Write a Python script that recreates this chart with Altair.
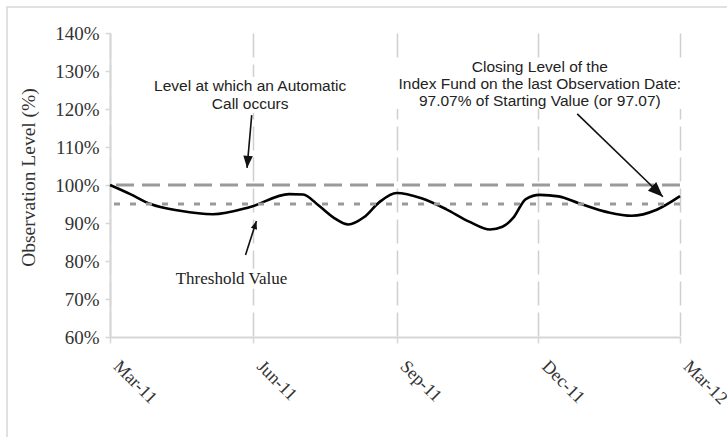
import math
import altair as alt
import pandas as pd

# Closing level of the index fund, % of starting value
obs_dates = ["2011-03-01", "2011-03-14", "2011-03-27", "2011-04-15", "2011-05-06",
             "2011-05-30", "2011-06-24", "2011-07-03", "2011-07-13", "2011-07-23",
             "2011-08-01", "2011-08-11", "2011-08-21", "2011-09-01", "2011-09-17",
             "2011-10-03", "2011-10-18", "2011-10-31", "2011-11-08", "2011-11-15",
             "2011-11-23", "2011-12-02", "2011-12-14", "2011-12-27", "2012-01-15",
             "2012-01-30", "2012-02-15", "2012-03-01"]
obs_levels = [100.0, 97.6, 95.0, 93.2, 92.3, 94.2, 97.6, 97.5, 94.6, 91.3,
              89.6, 91.5, 95.5, 97.9, 96.5, 93.6, 90.3, 88.3, 89.0, 91.4,
              96.3, 97.4, 97.0, 95.2, 92.8, 91.9, 93.5, 97.07]

# Reference levels
call_level = [100]
threshold_level = [95]

# Axis ticks
y_ticks = [60, 70, 80, 90, 100, 110, 120, 130, 140]
x_tick_dates = [(2011, 3), (2011, 6), (2011, 9), (2011, 12), (2012, 3)]

# Annotation texts (sans-serif callouts)
note_text = ["Level at which an Automatic", "Call occurs",
             "Closing Level of the", "Index Fund on the last Observation Date:",
             "97.07% of Starting Value (or 97.07)"]
note_dates = ["2011-05-30", "2011-05-30", "2011-12-02", "2011-12-02", "2011-12-02"]
note_levels = [126.1, 121.3, 131.05, 126.6, 122.2]

thresh_text = ["Threshold Value"]
thresh_dates = ["2011-05-18"]
thresh_levels = [75.3]

# White text boxes behind each callout: centre date, centre level, half size in px
box_dates = ["2011-05-30", "2011-12-02", "2011-05-18"]
box_levels = [123.7, 126.6, 75.3]
box_half_w = [101, 148, 60]
box_half_h = [18, 25, 10]

# Callout arrows: tail -> tip
arrow_from_dates = ["2011-05-31", "2011-05-27", "2011-12-26"]
arrow_from_levels = [118.4, 81.6, 118.7]
arrow_to_dates = ["2011-05-28", "2011-06-03", "2012-02-19"]
arrow_to_levels = [104.5, 90.5, 96.9]
arrow_head_sizes = [144, 64, 225]

W, H = 570, 304
X0, X1 = pd.Timestamp("2011-03-01"), pd.Timestamp("2012-03-01")
Y0, Y1 = 60, 140
PX_PER_DAY = W / (X1 - X0).days
PX_PER_PCT = H / (Y1 - Y0)


def to_px(d, v):
    t = (pd.Timestamp(d) - X0) / (X1 - X0)
    return t * W, (Y1 - v) / (Y1 - Y0) * H


def head_angle(d0, v0, d1, v1):
    x0, y0 = to_px(d0, v0)
    x1, y1 = to_px(d1, v1)
    return math.degrees(math.atan2(x1 - x0, -(y1 - y0))) % 360


series = pd.DataFrame({"date": obs_dates, "level": obs_levels})
notes = pd.DataFrame({"date": note_dates, "level": note_levels, "text": note_text})
thresh = pd.DataFrame({"date": thresh_dates, "level": thresh_levels, "text": thresh_text})
arrows = pd.DataFrame({
    "date": arrow_from_dates, "level": arrow_from_levels,
    "date2": arrow_to_dates, "level2": arrow_to_levels,
    "size": arrow_head_sizes,
    "angle": [head_angle(a, b, c, d) for a, b, c, d in
              zip(arrow_from_dates, arrow_from_levels, arrow_to_dates, arrow_to_levels)],
})
boxes = pd.DataFrame({
    "date": [(pd.Timestamp(d) - pd.Timedelta(days=w / PX_PER_DAY)).isoformat()
             for d, w in zip(box_dates, box_half_w)],
    "date2": [(pd.Timestamp(d) + pd.Timedelta(days=w / PX_PER_DAY)).isoformat()
              for d, w in zip(box_dates, box_half_w)],
    "level": [v - h / PX_PER_PCT for v, h in zip(box_levels, box_half_h)],
    "level2": [v + h / PX_PER_PCT for v, h in zip(box_levels, box_half_h)],
})
boxes["date"] = boxes["date"].str.slice(0, 19) + "Z"
boxes["date2"] = boxes["date2"].str.slice(0, 19) + "Z"

x_scale = alt.Scale(
    type="utc",
    domain=[alt.DateTime(year=2011, month=3, date=1, utc=True),
            alt.DateTime(year=2012, month=3, date=1, utc=True)],
)
y_scale = alt.Scale(domain=[Y0, Y1], zero=False, nice=False)

SERIF = "Liberation Serif"
SANS = "Liberation Sans"

x_axis = alt.Axis(
    values=[alt.DateTime(year=y, month=m, date=1, utc=True) for y, m in x_tick_dates],
    labelExpr="utcFormat(datum.value, '%b-%y')",
    title=None,
    labelAngle=45, labelAlign="left", labelBaseline="top",
    labelPadding=14, labelOffset=12,
    labelFont=SERIF, labelFontSize=18, labelColor="#333333",
    domainColor="#d6d6d6", domainWidth=2,
    tickColor="#d6d6d6", tickSize=6, tickWidth=1.5,
    grid=True, gridColor="#cfcfcf", gridWidth=1.5, gridDash=[24, 7],
)
y_axis = alt.Axis(
    values=y_ticks,
    labelExpr="datum.value + '%'",
    title="Observation Level (%)",
    titleFont=SERIF, titleFontSize=19.5, titleFontWeight="normal", titleColor="#333333",
    titleX=-82, titleY=144, titleAlign="center", titleBaseline="middle", titleAngle=270,
    labelFont=SERIF, labelFontSize=19, labelColor="#333333", labelPadding=6,
    domainColor="#d6d6d6", domainWidth=2,
    tickColor="#d6d6d6", tickSize=5, tickWidth=1.5,
    grid=False,
)


def xe(field):
    return alt.X(field, scale=x_scale, axis=x_axis)


def ye(field):
    return alt.Y(field, scale=y_scale, axis=y_axis)


frame = alt.Chart(pd.DataFrame({"k": [0]})).mark_rect(
    fillOpacity=0, stroke="#d8d8d8", strokeWidth=1.5
).encode(x=alt.value(-103), x2=alt.value(660), y=alt.value(-26), y2=alt.value(440))

text_boxes = alt.Chart(boxes).mark_rect(color="white").encode(
    x=xe("date:T"), x2="date2:T", y=ye("level:Q"), y2="level2:Q"
)

line = alt.Chart(series).mark_line(
    color="black", strokeWidth=2.6, interpolate="monotone"
).encode(x=xe("date:T"), y=ye("level:Q"))

call_rule = alt.Chart(pd.DataFrame({"level": call_level})).mark_rule(
    color="#9a9a9a", strokeWidth=3, strokeDash=[18, 8]
).encode(y=ye("level:Q"))

thresh_rule = alt.Chart(pd.DataFrame({"level": threshold_level})).mark_rule(
    color="#9a9a9a", strokeWidth=3, strokeDash=[6, 10]
).encode(y=ye("level:Q"))

shafts = alt.Chart(arrows).mark_rule(color="#111111", strokeWidth=1.6).encode(
    x=xe("date:T"), y=ye("level:Q"), x2="date2:T", y2="level2:Q"
)

heads = alt.Chart(arrows).mark_point(
    shape="M0,0L0.8,2L-0.8,2Z", filled=True, color="#111111", opacity=1
).encode(
    x=xe("date2:T"), y=ye("level2:Q"),
    size=alt.Size("size:Q", scale=None, legend=None),
    angle=alt.Angle("angle:Q", scale=None),
)

note_marks = alt.Chart(notes).mark_text(
    font=SANS, fontSize=15.5, color="#222222", align="center", baseline="middle"
).encode(x=xe("date:T"), y=ye("level:Q"), text="text:N")

thresh_mark = alt.Chart(thresh).mark_text(
    font=SERIF, fontSize=17, color="#222222", align="center", baseline="middle"
).encode(x=xe("date:T"), y=ye("level:Q"), text="text:N")

chart = alt.layer(
    frame, text_boxes, line, call_rule, thresh_rule, shafts, heads, note_marks, thresh_mark
).properties(
    width=W, height=H,
    padding={"left": 110, "top": 33, "right": 47, "bottom": 100},
    autosize=alt.AutoSizeParams(type="none"),
    background="white",
).configure_view(strokeWidth=0)

chart.save("out.html", embed_options={"renderer": "svg", "actions": False})
